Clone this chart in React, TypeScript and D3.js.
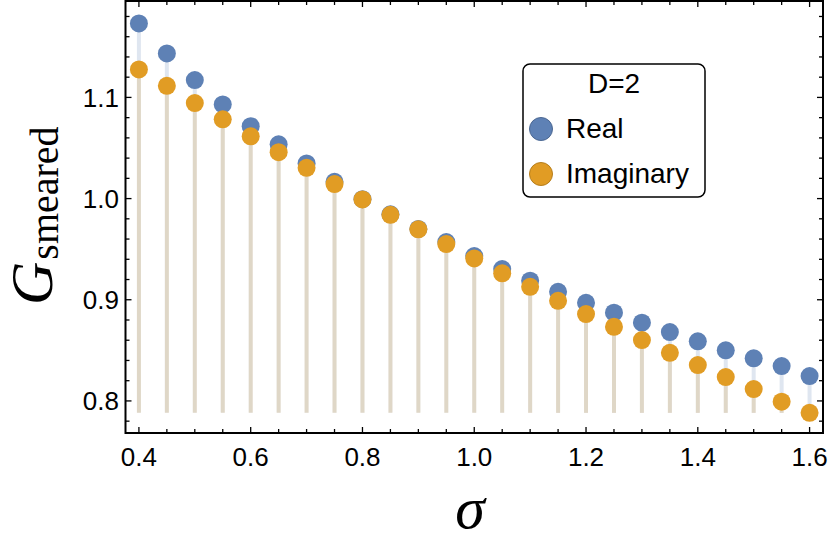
import React from "react";
import * as d3 from "d3";

const sigma = [0.4, 0.45, 0.5, 0.55, 0.6, 0.65, 0.7, 0.75, 0.8, 0.85, 0.9, 0.95, 1.0, 1.05, 1.1, 1.15, 1.2, 1.25, 1.3, 1.35, 1.4, 1.45, 1.5, 1.55, 1.6];
const realVals = [1.1731, 1.1435, 1.1171, 1.0931, 1.0716, 1.0536, 1.0348, 1.0166, 0.9994, 0.9845, 0.9700, 0.9570, 0.9432, 0.9303, 0.9188, 0.9079, 0.8970, 0.8872, 0.8773, 0.8681, 0.8589, 0.8500, 0.8421, 0.8345, 0.8246];
const imagVals = [1.1277, 1.1115, 1.0944, 1.0783, 1.0615, 1.0459, 1.0304, 1.0143, 0.9992, 0.9840, 0.9696, 0.9550, 0.9409, 0.9261, 0.9128, 0.8990, 0.8858, 0.8733, 0.8602, 0.8476, 0.8354, 0.8236, 0.8117, 0.7993, 0.7882];
const xMajorTicks = [0.4, 0.6, 0.8, 1.0, 1.2, 1.4, 1.6];
const xTickLabels = ["0.4", "0.6", "0.8", "1.0", "1.2", "1.4", "1.6"];
const yMajorTicks = [0.8, 0.9, 1.0, 1.1];
const yTickLabels = ["0.8", "0.9", "1.0", "1.1"];
const seriesNames = ["Real", "Imaginary"];
const legendTitle = "D=2";

const BLUE = "#5e81b5";
const ORANGE = "#e19c24";

export default function App() {
  const W = 830, H = 553;
  const left = 125.5, right = 823, top = 1, bottom = 433;
  const x = d3.scaleLinear().domain([0.376, 1.624]).range([left, right]);
  const y = d3.scaleLinear().domain([0.7683, 1.1953]).range([bottom, top]);
  const base = d3.min(imagVals) as number;

  const xMinor = d3.range(0, 25).map((i) => +(0.4 + i * 0.05).toFixed(2));
  const yMinor = d3.range(0, 22).map((i) => +(0.78 + i * 0.02).toFixed(2)).filter((v) => y(v) > top + 1 && y(v) < bottom - 1);
  const isMajorX = (v: number) => xMajorTicks.some((m) => Math.abs(m - v) < 1e-6);
  const isMajorY = (v: number) => yMajorTicks.some((m) => Math.abs(m - v) < 1e-6);

  const series = [
    { vals: realVals, color: BLUE },
    { vals: imagVals, color: ORANGE },
  ];
  const tickFont = "'Liberation Sans', Arial, sans-serif";

  return (
    <svg width={W} height={H} style={{ position: "absolute", left: 0, top: 0, background: "#fff" }}>
      {/* stems */}
      {series.map((s, si) => (
        <g key={"st" + si}>
          {s.vals.map((v, i) => (
            <line key={i} x1={x(sigma[i])} x2={x(sigma[i])} y1={y(v)} y2={y(base)} stroke={s.color} strokeOpacity={0.2} strokeWidth={4} />
          ))}
        </g>
      ))}
      {/* points */}
      {series.map((s, si) => (
        <g key={"pt" + si}>
          {s.vals.map((v, i) => (
            <circle key={i} cx={x(sigma[i])} cy={y(v)} r={9} fill={s.color} />
          ))}
        </g>
      ))}
      {/* frame */}
      <rect x={left} y={top} width={right - left} height={bottom - top} fill="none" stroke="#000" strokeWidth={2} />
      {/* x ticks */}
      {xMinor.map((v, i) => {
        const len = isMajorX(v) ? 6 : 4;
        return (
          <g key={"xt" + i}>
            <line x1={x(v)} x2={x(v)} y1={bottom} y2={bottom - len} stroke="#000" strokeWidth={1.3} />
            <line x1={x(v)} x2={x(v)} y1={top} y2={top + len} stroke="#000" strokeWidth={1.3} />
          </g>
        );
      })}
      {yMinor.map((v, i) => {
        const len = isMajorY(v) ? 6 : 4;
        return (
          <g key={"yt" + i}>
            <line x1={left} x2={left + len} y1={y(v)} y2={y(v)} stroke="#000" strokeWidth={1.3} />
            <line x1={right} x2={right - len} y1={y(v)} y2={y(v)} stroke="#000" strokeWidth={1.3} />
          </g>
        );
      })}
      {/* tick labels */}
      {xMajorTicks.map((v, i) => (
        <text key={"xl" + i} x={x(v)} y={466} textAnchor="middle" fontFamily={tickFont} fontSize={26} fill="#000">
          {xTickLabels[i]}
        </text>
      ))}
      {yMajorTicks.map((v, i) => (
        <text key={"yl" + i} x={119} y={y(v) + 9.5} textAnchor="end" fontFamily={tickFont} fontSize={26} fill="#000">
          {yTickLabels[i]}
        </text>
      ))}
      {/* axis labels */}
      <text x={470} y={528} textAnchor="middle" fontFamily="'Liberation Serif', 'Times New Roman', serif" fontStyle="italic" fontSize={60} fill="#000">
        σ
      </text>
      <g transform="translate(52,305) rotate(-90)">
        <text x={0} y={0} fontFamily="'Liberation Serif', 'Times New Roman', serif" fill="#000">
          <tspan fontStyle="italic" fontSize={60}>G</tspan>
          <tspan fontSize={40} dy={6} dx={2}>smeared</tspan>
        </text>
      </g>
      {/* legend */}
      <rect x={523} y={64} width={182} height={133} rx={7} ry={7} fill="#fff" stroke="#000" strokeWidth={1.5} />
      <text x={614} y={93} textAnchor="middle" fontFamily={tickFont} fontSize={28} fill="#000">
        {legendTitle}
      </text>
      {seriesNames.map((n, i) => (
        <g key={"lg" + i}>
          <circle cx={541} cy={129 + i * 45} r={11.5} fill={series[i].color} stroke={d3.color(series[i].color)!.darker(0.6).toString()} strokeWidth={1} />
          <text x={566} y={138 + i * 45} fontFamily={tickFont} fontSize={28} fill="#000">
            {n}
          </text>
        </g>
      ))}
    </svg>
  );
}
